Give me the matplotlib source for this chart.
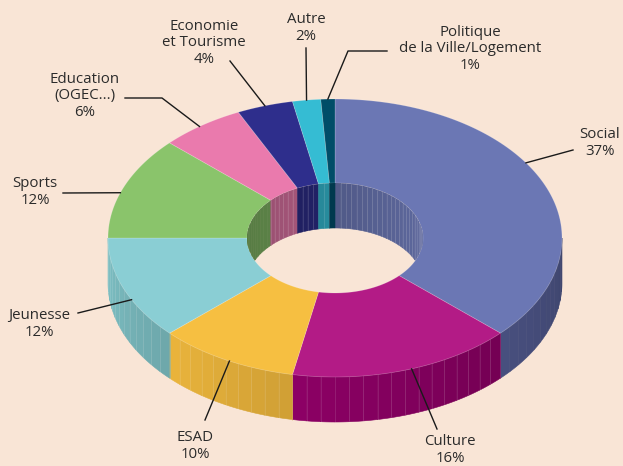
import numpy as np
import matplotlib
matplotlib.use("Agg")
import matplotlib.pyplot as plt
from matplotlib.patches import Polygon, Ellipse
from matplotlib.colors import to_rgb

# data
labels = ["Social", "Culture", "ESAD", "Jeunesse", "Sports",
          "Education\n(OGEC...)", "Economie\net Tourisme", "Autre",
          "Politique\nde la Ville/Logement"]
shares = [37, 16, 10, 12, 12, 6, 4, 2, 1]
colors = ["#6B77B4", "#B31B86", "#F6BF41", "#8ACED4", "#8AC46B",
          "#EA7AAD", "#2E2E8C", "#35BCD3", "#004D68"]
wall_colors = ["#434A76", "#80005C", "#DCA938", "#75B3B7", "#6E9F56",
               "#C0638D", "#25256F", "#2C9AAD", "#003F55"]

BG = "#F9E5D6"
TXT = "#2B2B2B"

# geometry of the projected donut (pixel space)
CX, CY = 335, 238
A_OUT, B_OUT = 227, 139
A_IN, B_IN = 88, 55
DEPTH = 45
STRIPE = 3.6

# label layout: text centre, leader start, optional elbow, anchor fraction in slice
label_xy = [(600, 143), (450, 450), (195, 446), (39, 324), (35, 192),
            (85, 96), (204, 43), (306, 28), (470, 49)]
lead_start = [(573, 150), (437, 429), (205, 420), (78, 313), (63, 193),
              (125, 98), (230, 61), (306, 48), (387, 51)]
lead_elbow = [None, None, None, None, None, (162, 98), None, None, (348, 51)]
anchor_frac = [0.43, 0.47, 0.47, 0.39, 0.44, 0.47, 0.5, 0.5, 0.5]


def pt(theta, a, b, dy=0.0):
    t = np.radians(theta)
    return CX + a * np.cos(t), CY - b * np.sin(t) + dy


def arc(t0, t1, a, b, dy=0.0, n=None):
    if n is None:
        n = max(2, int(abs(t1 - t0) / 0.5) + 2)
    ts = np.linspace(t0, t1, n)
    x, y = pt(ts, a, b, dy)
    return np.column_stack([x, y])


def shade(c, f):
    return tuple(np.clip(np.array(to_rgb(c)) * f, 0, 1))


def cuts(lo, hi):
    k0 = int(np.ceil(lo / STRIPE))
    k1 = int(np.floor(hi / STRIPE))
    inner = [k * STRIPE for k in range(k0, k1 + 1) if lo < k * STRIPE < hi]
    return [lo] + inner + [hi]


fig = plt.figure(figsize=(6.23, 4.66), dpi=100)
fig.patch.set_facecolor(BG)
ax = fig.add_axes([0, 0, 1, 1])
ax.set_xlim(0, 623)
ax.set_ylim(466, 0)
ax.axis("off")
ax.set_facecolor(BG)

# slice angles, clockwise from 12 o'clock
spans = [360 * s / sum(shares) for s in shares]
starts = 90 - np.concatenate([[0], np.cumsum(spans)[:-1]])
ends = starts - np.array(spans)

hole = Ellipse((CX, CY), 2 * A_IN, 2 * B_IN, transform=ax.transData)

# outer walls (front half) and inner walls (back half of the hole)
for s, (hi, lo) in enumerate(zip(starts, ends)):
    bounds = cuts(lo, hi)
    pairs = list(zip(bounds[:-1], bounds[1:]))
    front = [0.5 * (u + v) for u, v in pairs
             if np.sin(np.radians(0.5 * (u + v))) < 0]
    vis_mid = 0.5 * (min(front) + max(front)) if front else 0
    for u, v in pairs:
        md = 0.5 * (u + v)
        m = np.radians(md)
        if np.sin(m) < 0:
            f = 1 - 0.6 * (md - vis_mid) / 180
            col = shade(wall_colors[s], f)
            top = arc(u, v, A_OUT, B_OUT)
            bot = arc(v, u, A_OUT, B_OUT, DEPTH)
            ax.add_patch(Polygon(np.vstack([top, bot]), closed=True,
                                 facecolor=col, edgecolor=col, lw=0.4,
                                 zorder=1))
            if v < hi and s != 0:
                x, y = pt(v, A_OUT, B_OUT)
                ax.plot([x, x], [y, y + DEPTH], color="white", alpha=0.13,
                        lw=0.6, zorder=1.5)
        else:
            f = 0.75 + 0.12 * np.cos(m)
            col = shade(colors[s], f)
            top = arc(u, v, A_IN, B_IN)
            bot = arc(v, u, A_IN, B_IN, DEPTH)
            p = Polygon(np.vstack([top, bot]), closed=True,
                        facecolor=col, edgecolor=col, lw=0.4, zorder=3)
            ax.add_patch(p)
            p.set_clip_path(hole)
            if v < hi and s != 4:
                x, y = pt(v, A_IN, B_IN)
                ln, = ax.plot([x, x], [y, y + DEPTH], color="white",
                              alpha=0.15, lw=0.6, zorder=3.5)
                ln.set_clip_path(hole)

# top surface
for s, (hi, lo) in enumerate(zip(starts, ends)):
    outer = arc(hi, lo, A_OUT, B_OUT)
    inner = arc(lo, hi, A_IN, B_IN)
    ax.add_patch(Polygon(np.vstack([outer, inner]), closed=True,
                         facecolor=colors[s], edgecolor=(1, 1, 1, 0.2),
                         lw=0.6, zorder=2))

# labels and leader lines
for s, lab in enumerate(labels):
    text = f"{lab}\n{shares[s]}%"
    ax.text(label_xy[s][0], label_xy[s][1], text, ha="center", va="center",
            multialignment="center", fontsize=10.8, color=TXT,
            family=["Open Sans", "DejaVu Sans"], linespacing=1.13, zorder=5)
    theta = starts[s] - anchor_frac[s] * spans[s]
    ex, ey = pt(theta, A_OUT, B_OUT)
    pts = [lead_start[s]]
    if lead_elbow[s] is not None:
        pts.append(lead_elbow[s])
    pts.append((ex, ey))
    xs, ys = zip(*pts)
    ax.plot(xs, ys, color="#1A1A1A", lw=1.0, zorder=4.5)

fig.savefig("out.png", dpi=100, facecolor=BG)
